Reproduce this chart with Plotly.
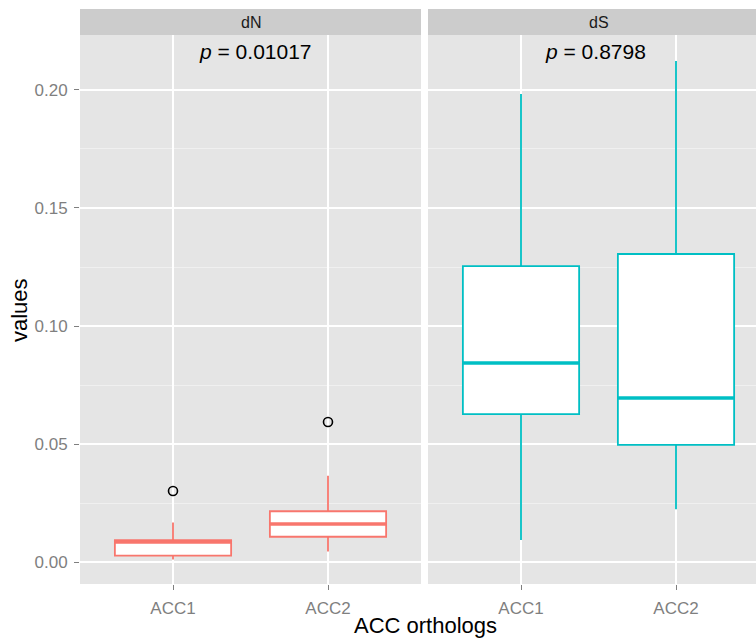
import plotly.graph_objects as go

# ---- data ----
groups = ["ACC1", "ACC2"]
facets = ["dN", "dS"]
pvalues = ["0.01017", "0.8798"]

dN_lower = [0.0011, 0.0045]
dN_q1 = [0.0027, 0.0107]
dN_median = [0.0085, 0.0161]
dN_q3 = [0.0093, 0.0215]
dN_upper = [0.0167, 0.0366]
dN_outliers = [0.0301, 0.0593]

dS_lower = [0.0093, 0.0223]
dS_q1 = [0.0627, 0.0496]
dS_median = [0.0843, 0.0695]
dS_q3 = [0.1254, 0.1305]
dS_upper = [0.1983, 0.2123]

# ---- style ----
W, H = 756, 638
ML, MR, MT, MB = 80, 0, 35, 54
FONT = "Liberation Sans, Arial, Helvetica, sans-serif"
COL = {"dN": "#F8766D", "dS": "#00BFC4"}
PANEL_BG = "#E5E5E5"
STRIP_BG = "#CCCCCC"
TICK_COL = "#7F7F7F"
BOXW = 0.75

pw = W - ML - MR
ph = H - MT - MB
panel1_px = 341
gap_px = 7
unit_px = panel1_px / 2.2
d1 = [0, panel1_px / pw]
d2 = [(panel1_px + gap_px) / pw, 1]
x2_max = 0.4 + (pw - panel1_px - gap_px) / unit_px

fig = go.Figure()

pos = [1, 2]
stats = {
    "dN": (dN_lower, dN_q1, dN_median, dN_q3, dN_upper),
    "dS": (dS_lower, dS_q1, dS_median, dS_q3, dS_upper),
}
axes = {"dN": ("x", "y"), "dS": ("x2", "y2")}

for f in facets:
    lo, q1, med, q3, up = stats[f]
    xa, ya = axes[f]
    fig.add_trace(go.Box(
        x=pos, lowerfence=lo, q1=q1, median=med, q3=q3, upperfence=up,
        width=BOXW, whiskerwidth=0, fillcolor="white",
        line=dict(color=COL[f], width=1.8), boxpoints=False,
        xaxis=xa, yaxis=ya, showlegend=False, hoverinfo="skip",
    ))
    # thicker median lines (ggplot style)
    for p, m in zip(pos, med):
        fig.add_trace(go.Scatter(
            x=[p - BOXW / 2, p + BOXW / 2], y=[m, m], mode="lines",
            line=dict(color=COL[f], width=3.5), xaxis=xa, yaxis=ya,
            showlegend=False, hoverinfo="skip",
        ))

# outliers (dN only)
fig.add_trace(go.Scatter(
    x=pos, y=dN_outliers, mode="markers",
    marker=dict(symbol="circle-open", size=9, color="black", line=dict(width=1.6)),
    xaxis="x", yaxis="y", showlegend=False, hoverinfo="skip",
))

ymin = -0.00932
ymax = 0.2233

common_x = dict(
    tickvals=pos, ticktext=groups, showgrid=True, gridcolor="white", gridwidth=1.8,
    zeroline=False, ticks="outside", ticklen=5, tickcolor=TICK_COL, tickwidth=1.2,
    tickfont=dict(family=FONT, size=17, color=TICK_COL), showline=False,
    ticklabelstandoff=4,
)
common_y = dict(
    range=[ymin, ymax], tickvals=[0, 0.05, 0.10, 0.15, 0.20], tickformat=".2f",
    showgrid=True, gridcolor="white", gridwidth=1.8, zeroline=False,
    minor=dict(tickvals=[0.025, 0.075, 0.125, 0.175], showgrid=True,
               gridcolor="#F0F0F0", gridwidth=1, ticks=""),
    domain=[0, 1],
)

fig.update_layout(
    width=W, height=H,
    margin=dict(l=ML, r=MR, t=MT, b=MB),
    paper_bgcolor="white", plot_bgcolor=PANEL_BG,
    font=dict(family=FONT),
    xaxis=dict(domain=d1, range=[0.4, 2.6], anchor="y", **common_x),
    xaxis2=dict(domain=d2, range=[0.4, x2_max], anchor="y2", **common_x),
    yaxis=dict(anchor="x", ticks="outside", ticklen=5, tickcolor=TICK_COL, tickwidth=1.2,
               tickfont=dict(family=FONT, size=17, color=TICK_COL),
               ticklabelstandoff=3, **common_y),
    yaxis2=dict(anchor="x2", matches="y", showticklabels=False, ticks="", **common_y),
)

# facet strips
strip_h = 26 / ph
strip_centers = [(d1[0] + d1[1]) / 2, d2[0] + (panel1_px / pw) / 2]
for f, d, cx in zip(facets, [d1, d2], strip_centers):
    fig.add_shape(type="rect", xref="paper", yref="paper",
                  x0=d[0], x1=d[1], y0=1, y1=1 + strip_h,
                  fillcolor=STRIP_BG, line=dict(width=0), layer="below")
    fig.add_annotation(xref="paper", yref="paper", x=cx,
                       y=1 + strip_h / 2, text=f, showarrow=False,
                       font=dict(family=FONT, size=16, color="#1A1A1A"),
                       xanchor="center", yanchor="middle")

# p-value labels
p_x = [1.53, 1.48]
for f, pv, px in zip(facets, pvalues, p_x):
    xa, ya = axes[f]
    fig.add_annotation(xref=xa, yref=ya, x=px, y=0.2163,
                       text=f"<i>p</i> = {pv}", showarrow=False,
                       font=dict(family=FONT, size=21, color="black"),
                       xanchor="center", yanchor="middle")

# axis titles
fig.add_annotation(xref="paper", yref="paper", x=(425 - ML) / pw,
                   y=-(625 - (H - MB)) / ph, text="ACC orthologs",
                   showarrow=False, font=dict(family=FONT, size=22, color="black"),
                   xanchor="center", yanchor="middle")
fig.add_annotation(xref="paper", yref="paper", x=-(ML - 19) / pw, y=(584 - 310) / ph,
                   text="values", textangle=-90, showarrow=False,
                   font=dict(family=FONT, size=22, color="black"),
                   xanchor="center", yanchor="middle")

fig.write_html("out.html")
